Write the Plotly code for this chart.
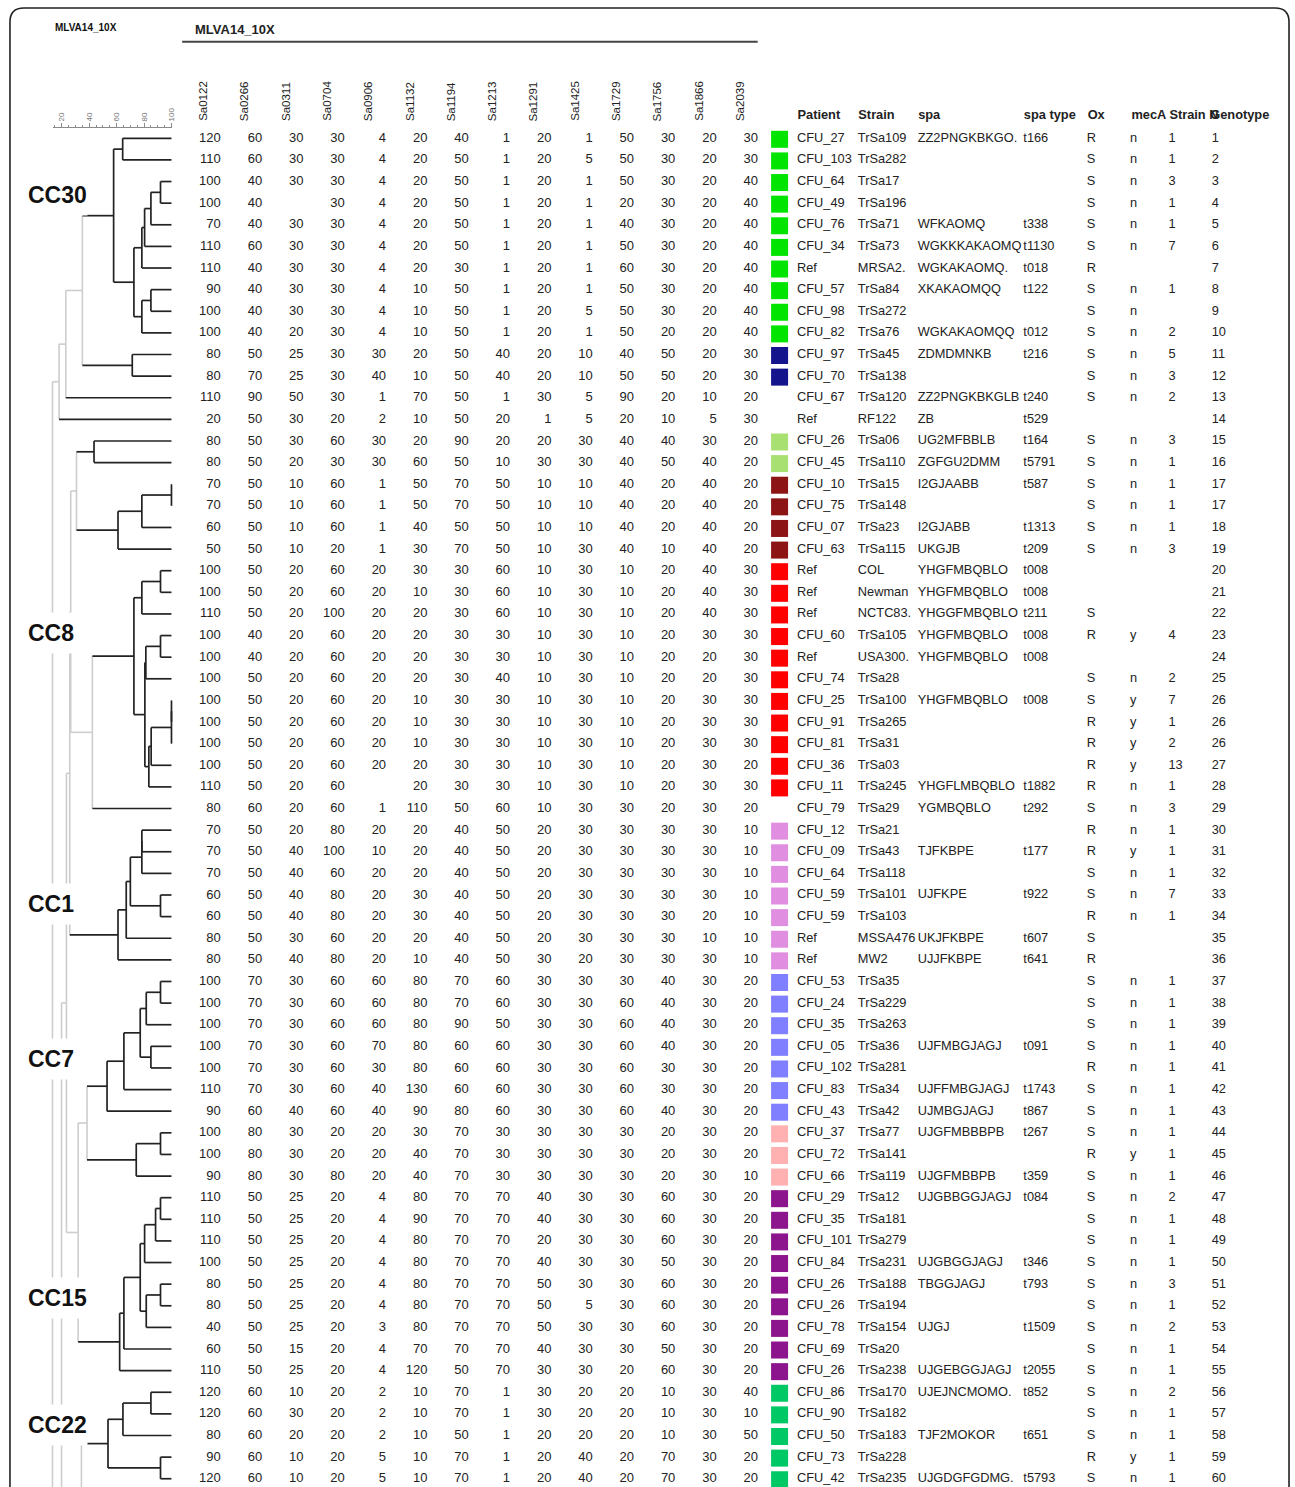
import plotly.graph_objects as go

# ---------------------------------------------------------------- data
markers = ["Sa0122", "Sa0266", "Sa0311", "Sa0704", "Sa0906", "Sa1132", "Sa1194",
           "Sa1213", "Sa1291", "Sa1425", "Sa1729", "Sa1756", "Sa1866", "Sa2039"]

sa0122 = [120, 110, 100, 100, 70, 110, 110, 90, 100, 100, 80, 80, 110, 20, 80, 80, 70, 70, 60, 50,
          100, 100, 110, 100, 100, 100, 100, 100, 100, 100, 110, 80, 70, 70, 70, 60, 60, 80, 80, 100,
          100, 100, 100, 100, 110, 90, 100, 100, 90, 110, 110, 110, 100, 80, 80, 40, 60, 110, 120, 120,
          80, 90, 120]
sa0266 = [60, 60, 40, 40, 40, 60, 40, 40, 40, 40, 50, 70, 90, 50, 50, 50, 50, 50, 50, 50,
          50, 50, 50, 40, 40, 50, 50, 50, 50, 50, 50, 60, 50, 50, 50, 50, 50, 50, 50, 70,
          70, 70, 70, 70, 70, 60, 80, 80, 80, 50, 50, 50, 50, 50, 50, 50, 50, 50, 60, 60,
          60, 60, 60]
sa0311 = [30, 30, 30, None, 30, 30, 30, 30, 30, 20, 25, 25, 50, 30, 30, 20, 10, 10, 10, 10,
          20, 20, 20, 20, 20, 20, 20, 20, 20, 20, 20, 20, 20, 40, 40, 40, 40, 30, 40, 30,
          30, 30, 30, 30, 30, 40, 30, 30, 30, 25, 25, 25, 25, 25, 25, 25, 15, 25, 10, 30,
          20, 10, 10]
sa0704 = [30, 30, 30, 30, 30, 30, 30, 30, 30, 30, 30, 30, 30, 20, 60, 30, 60, 60, 60, 20,
          60, 60, 100, 60, 60, 60, 60, 60, 60, 60, 60, 60, 80, 100, 60, 80, 80, 60, 80, 60,
          60, 60, 60, 60, 60, 60, 20, 20, 80, 20, 20, 20, 20, 20, 20, 20, 20, 20, 20, 20,
          20, 20, 20]
sa0906 = [4, 4, 4, 4, 4, 4, 4, 4, 4, 4, 30, 40, 1, 2, 30, 30, 1, 1, 1, 1,
          20, 20, 20, 20, 20, 20, 20, 20, 20, 20, None, 1, 20, 10, 20, 20, 20, 20, 20, 60,
          60, 60, 70, 30, 40, 40, 20, 20, 20, 4, 4, 4, 4, 4, 4, 3, 4, 4, 2, 2,
          2, 5, 5]
sa1132 = [20, 20, 20, 20, 20, 20, 20, 10, 10, 10, 20, 10, 70, 10, 20, 60, 50, 50, 40, 30,
          30, 10, 20, 20, 20, 20, 10, 10, 10, 20, 20, 110, 20, 20, 20, 30, 30, 20, 10, 80,
          80, 80, 80, 80, 130, 90, 30, 40, 40, 80, 90, 80, 80, 80, 80, 80, 70, 120, 10, 10,
          10, 10, 10]
sa1194 = [40, 50, 50, 50, 50, 50, 30, 50, 50, 50, 50, 50, 50, 50, 90, 50, 70, 70, 50, 70,
          30, 30, 30, 30, 30, 30, 30, 30, 30, 30, 30, 50, 40, 40, 40, 40, 40, 40, 40, 70,
          70, 90, 60, 60, 60, 80, 70, 70, 70, 70, 70, 70, 70, 70, 70, 70, 70, 50, 70, 70,
          50, 70, 70]
sa1213 = [1, 1, 1, 1, 1, 1, 1, 1, 1, 1, 40, 40, 1, 20, 20, 10, 50, 50, 50, 50,
          60, 60, 60, 30, 30, 40, 30, 30, 30, 30, 30, 60, 50, 50, 50, 50, 50, 50, 50, 60,
          60, 50, 60, 60, 60, 60, 30, 30, 30, 70, 70, 70, 70, 70, 70, 70, 70, 70, 1, 1,
          1, 1, 1]
sa1291 = [20, 20, 20, 20, 20, 20, 20, 20, 20, 20, 20, 20, 30, 1, 20, 30, 10, 10, 10, 10,
          10, 10, 10, 10, 10, 10, 10, 10, 10, 10, 10, 10, 20, 20, 20, 20, 20, 20, 30, 30,
          30, 30, 30, 30, 30, 30, 30, 30, 30, 40, 40, 20, 40, 50, 50, 50, 40, 30, 30, 30,
          20, 20, 20]
sa1425 = [1, 5, 1, 1, 1, 1, 1, 1, 5, 1, 10, 10, 5, 5, 30, 30, 10, 10, 10, 30,
          30, 30, 30, 30, 30, 30, 30, 30, 30, 30, 30, 30, 30, 30, 30, 30, 30, 30, 20, 30,
          30, 30, 30, 30, 30, 30, 30, 30, 30, 30, 30, 30, 30, 30, 5, 30, 30, 30, 20, 20,
          20, 40, 40]
sa1729 = [50, 50, 50, 20, 40, 50, 60, 50, 50, 50, 40, 50, 90, 20, 40, 40, 40, 40, 40, 40,
          10, 10, 10, 10, 10, 10, 10, 10, 10, 10, 10, 30, 30, 30, 30, 30, 30, 30, 30, 30,
          60, 60, 60, 60, 60, 60, 30, 30, 30, 30, 30, 30, 30, 30, 30, 30, 30, 20, 20, 20,
          20, 20, 20]
sa1756 = [30, 30, 30, 30, 30, 30, 30, 30, 30, 20, 50, 50, 20, 10, 40, 50, 20, 20, 20, 10,
          20, 20, 20, 20, 20, 20, 20, 20, 20, 20, 20, 20, 30, 30, 30, 30, 30, 30, 30, 40,
          40, 40, 40, 30, 30, 40, 20, 20, 20, 60, 60, 60, 50, 60, 60, 60, 50, 60, 10, 10,
          10, 70, 70]
sa1866 = [20, 20, 20, 20, 20, 20, 20, 20, 20, 20, 20, 20, 10, 5, 30, 40, 40, 40, 40, 40,
          40, 40, 40, 30, 20, 20, 30, 30, 30, 30, 30, 30, 30, 30, 30, 30, 20, 10, 30, 30,
          30, 30, 30, 30, 30, 30, 30, 30, 30, 30, 30, 30, 30, 30, 30, 30, 30, 30, 30, 30,
          30, 30, 30]
sa2039 = [30, 30, 40, 40, 40, 40, 40, 40, 40, 40, 30, 30, 20, 30, 20, 20, 20, 20, 20, 20,
          30, 30, 30, 30, 30, 30, 30, 30, 30, 20, 30, 20, 10, 10, 10, 10, 10, 10, 10, 20,
          20, 20, 20, 20, 20, 20, 20, 20, 10, 20, 20, 20, 20, 20, 20, 20, 20, 20, 40, 10,
          50, 20, 20]
mlva_columns = [sa0122, sa0266, sa0311, sa0704, sa0906, sa1132, sa1194,
                sa1213, sa1291, sa1425, sa1729, sa1756, sa1866, sa2039]

patients = ["CFU_27", "CFU_103", "CFU_64", "CFU_49", "CFU_76", "CFU_34", "Ref", "CFU_57", "CFU_98", "CFU_82",
            "CFU_97", "CFU_70", "CFU_67", "Ref", "CFU_26", "CFU_45", "CFU_10", "CFU_75", "CFU_07", "CFU_63",
            "Ref", "Ref", "Ref", "CFU_60", "Ref", "CFU_74", "CFU_25", "CFU_91", "CFU_81", "CFU_36",
            "CFU_11", "CFU_79", "CFU_12", "CFU_09", "CFU_64", "CFU_59", "CFU_59", "Ref", "Ref", "CFU_53",
            "CFU_24", "CFU_35", "CFU_05", "CFU_102", "CFU_83", "CFU_43", "CFU_37", "CFU_72", "CFU_66", "CFU_29",
            "CFU_35", "CFU_101", "CFU_84", "CFU_26", "CFU_26", "CFU_78", "CFU_69", "CFU_26", "CFU_86", "CFU_90",
            "CFU_50", "CFU_73", "CFU_42"]
strains = ["TrSa109", "TrSa282", "TrSa17", "TrSa196", "TrSa71", "TrSa73", "MRSA2.", "TrSa84", "TrSa272", "TrSa76",
           "TrSa45", "TrSa138", "TrSa120", "RF122", "TrSa06", "TrSa110", "TrSa15", "TrSa148", "TrSa23", "TrSa115",
           "COL", "Newman", "NCTC83.", "TrSa105", "USA300.", "TrSa28", "TrSa100", "TrSa265", "TrSa31", "TrSa03",
           "TrSa245", "TrSa29", "TrSa21", "TrSa43", "TrSa118", "TrSa101", "TrSa103", "MSSA476", "MW2", "TrSa35",
           "TrSa229", "TrSa263", "TrSa36", "TrSa281", "TrSa34", "TrSa42", "TrSa77", "TrSa141", "TrSa119", "TrSa12",
           "TrSa181", "TrSa279", "TrSa231", "TrSa188", "TrSa194", "TrSa154", "TrSa20", "TrSa238", "TrSa170", "TrSa182",
           "TrSa183", "TrSa228", "TrSa235"]
spa = ["ZZ2PNGKBKGO.", "", "", "", "WFKAOMQ", "WGKKKAKAOMQ", "WGKAKAOMQ.", "XKAKAOMQQ", "", "WGKAKAOMQQ",
       "ZDMDMNKB", "", "ZZ2PNGKBKGLB", "ZB", "UG2MFBBLB", "ZGFGU2DMM", "I2GJAABB", "", "I2GJABB", "UKGJB",
       "YHGFMBQBLO", "YHGFMBQBLO", "YHGGFMBQBLO", "YHGFMBQBLO", "YHGFMBQBLO", "", "YHGFMBQBLO", "", "", "",
       "YHGFLMBQBLO", "YGMBQBLO", "", "TJFKBPE", "", "UJFKPE", "", "UKJFKBPE", "UJJFKBPE", "",
       "", "", "UJFMBGJAGJ", "", "UJFFMBGJAGJ", "UJMBGJAGJ", "UJGFMBBBPB", "", "UJGFMBBPB", "UJGBBGGJAGJ",
       "", "", "UJGBGGJAGJ", "TBGGJAGJ", "", "UJGJ", "", "UJGEBGGJAGJ", "UJEJNCMOMO.", "",
       "TJF2MOKOR", "", "UJGDGFGDMG."]
spa_type = ["t166", "", "", "", "t338", "t1130", "t018", "t122", "", "t012",
            "t216", "", "t240", "t529", "t164", "t5791", "t587", "", "t1313", "t209",
            "t008", "t008", "t211", "t008", "t008", "", "t008", "", "", "",
            "t1882", "t292", "", "t177", "", "t922", "", "t607", "t641", "",
            "", "", "t091", "", "t1743", "t867", "t267", "", "t359", "t084",
            "", "", "t346", "t793", "", "t1509", "", "t2055", "t852", "",
            "t651", "", "t5793"]
ox = ["R", "S", "S", "S", "S", "S", "R", "S", "S", "S",
      "S", "S", "S", "", "S", "S", "S", "S", "S", "S",
      "", "", "S", "R", "", "S", "S", "R", "R", "R",
      "R", "S", "R", "R", "S", "S", "R", "S", "R", "S",
      "S", "S", "S", "R", "S", "S", "S", "R", "S", "S",
      "S", "S", "S", "S", "S", "S", "S", "S", "S", "S",
      "S", "R", "S"]
meca = ["n", "n", "n", "n", "n", "n", "", "n", "n", "n",
        "n", "n", "n", "", "n", "n", "n", "n", "n", "n",
        "", "", "", "y", "", "n", "y", "y", "y", "y",
        "n", "n", "n", "y", "n", "n", "n", "", "", "n",
        "n", "n", "n", "n", "n", "n", "n", "y", "n", "n",
        "n", "n", "n", "n", "n", "n", "n", "n", "n", "n",
        "n", "y", "n"]
strain_n = ["1", "1", "3", "1", "1", "7", "", "1", "", "2",
            "5", "3", "2", "", "3", "1", "1", "1", "1", "3",
            "", "", "", "4", "", "2", "7", "1", "2", "13",
            "1", "3", "1", "1", "1", "7", "1", "", "", "1",
            "1", "1", "1", "1", "1", "1", "1", "1", "1", "2",
            "1", "1", "1", "3", "1", "2", "1", "1", "2", "1",
            "1", "1", "1"]
genotype = [1, 2, 3, 4, 5, 6, 7, 8, 9, 10, 11, 12, 13, 14, 15, 16, 17, 17, 18, 19,
            20, 21, 22, 23, 24, 25, 26, 26, 26, 27, 28, 29, 30, 31, 32, 33, 34, 35, 36, 37,
            38, 39, 40, 41, 42, 43, 44, 45, 46, 47, 48, 49, 50, 51, 52, 53, 54, 55, 56, 57,
            58, 59, 60]
# MLVA type group of each row (colour key), "" = no colour box
type_group = ["A", "A", "A", "A", "A", "A", "A", "A", "A", "A",
              "B", "B", "", "", "C", "C", "D", "D", "D", "D",
              "E", "E", "E", "E", "E", "E", "E", "E", "E", "E",
              "E", "", "F", "F", "F", "F", "F", "F", "F", "G",
              "G", "G", "G", "G", "G", "G", "H", "H", "H", "I",
              "I", "I", "I", "I", "I", "I", "I", "I", "J", "J",
              "J", "J", "J"]

# tree: (node, child a, child b, similarity %). ints = table rows;
# 70/80/90 are leaves continuing below the visible page.
merges = [
    ("a1", 2, 3, 92), ("a2", "a1", 4, 85), ("a3", "a2", 5, 80.4), ("a4", "a3", 6, 78.4),
    ("a5", 7, 8, 85), ("a6", "a5", 9, 78.4), ("a7", "a4", "a6", 72.6),
    ("a8", 0, 1, 64.4), ("a9", "a8", "a7", 57.8), ("a10", 10, 11, 71.4),
    ("a11", "a9", "a10", 35), ("a12", "a11", 12, 22.9), ("a13", "a12", 13, 18),
    ("a14", "a13", 90, 13.2),
    ("b1", 14, 15, 43.5), ("b2", 16, 17, 100), ("b3", "b2", 18, 78.4), ("b4", "b3", 19, 61),
    ("b5", "b1", "b4", 30.7),
    ("b6", 20, 21, 92), ("b7", "b6", 22, 78.4), ("b8", 23, 24, 92), ("b9", "b8", 25, 81.3),
    ("b10", 26, 27, 100), ("b11", "b10", 28, 100), ("b12", "b11", 29, 85.2), ("b13", "b12", 30, 83.5),
    ("b14", "b9", "b13", 80.6), ("b15", "b7", "b14", 72.6), ("b16", "b15", 31, 42.3),
    ("b17", "b5", "b16", 26.5),
    ("c1", 32, 33, 78.4), ("c2", "c1", 34, 78.4), ("c3", 35, 36, 92), ("c4", "c2", "c3", 70),
    ("c5", "c4", 37, 67), ("c6", "c5", 38, 61), ("c7", "b17", "c6", 25.8),
    ("d1", 39, 40, 92), ("d2", "d1", 41, 81.6), ("d3", 42, 43, 85), ("d4", "d2", "d3", 77.2),
    ("d5", "d4", 44, 65.3), ("d6", "d5", 45, 53), ("d7", 46, 47, 92), ("d8", "d7", 48, 74.3),
    ("d9", "d6", "d8", 38.4),
    ("e1", 49, 50, 92), ("e2", "e1", 51, 88.4), ("e3", "e2", 52, 80.4), ("e4", 53, 54, 92),
    ("e5", "e4", 55, 81.6), ("e6", "e3", "e5", 77.2), ("e7", "e6", 56, 65.3), ("e8", "e7", 57, 62.2),
    ("e9", "d9", "e8", 31.9), ("e10", "c7", "e9", 23.4), ("e11", "e10", 80, 19.8),
    ("f1", 58, 59, 85), ("f2", "f1", 60, 64.6), ("f3", 61, 62, 92), ("f4", "f2", "f3", 53.7),
    ("f5", "f4", 70, 34.3),
]
cluster_labels = ["CC30", "CC8", "CC1", "CC7", "CC15", "CC22"]
scale_ticks = [20, 40, 60, 80, 100]
table_headers = ["Patient", "Strain", "spa", "spa type", "Ox", "mecA", "Strain N", "Genotype"]

# ---------------------------------------------------------------- layout constants
W, H = 1295, 1487
FONT = "Liberation Sans, Arial, sans-serif"
INK = "#222222"
GREY = "#cdcdcd"
ROW0, ROWSTEP = 138.3, 21.62          # pixel y of first row, row pitch
SIM0, SIMK = 34.5, 1.375              # pixel x = SIM0 + SIMK * similarity
CUT = 43                              # nodes below this similarity are drawn grey
TEXT_DY = 0.3 / ROWSTEP               # small text offset from the leaf line


def row_of(py):
    return (py - ROW0) / ROWSTEP


def sim_of(px):
    return (px - SIM0) / SIMK


group_colors = {"A": "#00e400", "B": "#14148c", "C": "#a9e072", "D": "#8c1414", "E": "#ff0000",
                "F": "#e08fe0", "G": "#7f7fff", "H": "#ffb1b1", "I": "#8c148c", "J": "#00c864"}
num_right = [221.5 + 41.45 * c for c in range(len(markers))]
info_x = [799.5, 860.5, 920.5, 1026.5, 1090, 1133.5, 1172, 1215.5]
head_x = [800, 861, 921, 1027, 1091, 1135, 1173, 1214]
cluster_y_px = [195, 633, 904, 1059, 1297.5, 1424.5]

rows = list(range(len(patients)))
trow = [r + TEXT_DY for r in rows]
fig = go.Figure()

# ---------------------------------------------------------------- dendrogram
pos = {}


def get(node):
    if isinstance(node, int):
        return (100.0, float(node))
    return pos[node]


black = ([], [])
grey = ([], [])


def add(seg, x0, y0, x1, y1):
    seg[0].extend([x0, x1, None])
    seg[1].extend([y0, y1, None])


for name, a, b, s in merges:
    (sa, ya), (sb, yb) = get(a), get(b)
    pos[name] = (s, (ya + yb) / 2)
    add(black if s >= CUT else grey, s, ya, s, yb)
    for child, (sc, yc) in ((a, (sa, ya)), (b, (sb, yb))):
        ccol = black if (isinstance(child, int) or sc >= CUT) else grey
        add(ccol, s, yc, sc, yc)

fig.add_trace(go.Scatter(x=grey[0], y=grey[1], mode="lines", line=dict(color=GREY, width=1.6),
                         hoverinfo="skip", xaxis="x", yaxis="y"))
fig.add_trace(go.Scatter(x=black[0], y=black[1], mode="lines", line=dict(color=INK, width=1.7),
                         hoverinfo="skip", xaxis="x", yaxis="y"))

# scale axis carrier
fig.add_trace(go.Scatter(x=[50], y=[row_of(-200)], mode="markers", marker=dict(opacity=0),
                         hoverinfo="skip", xaxis="x3", yaxis="y"))

# ---------------------------------------------------------------- MLVA numbers
for c, col in enumerate(mlva_columns):
    fig.add_trace(go.Scatter(
        x=[num_right[c]] * len(rows), y=trow, mode="text",
        text=["" if v is None else str(v) for v in col],
        textposition="middle left", textfont=dict(family=FONT, size=13, color=INK),
        hoverinfo="skip", xaxis="x2", yaxis="y", cliponaxis=False))

# colour boxes
box_rows = [r for r in rows if type_group[r]]
fig.add_trace(go.Scatter(
    x=[782] * len(box_rows), y=[r + 1.0 / ROWSTEP for r in box_rows], mode="markers",
    marker=dict(symbol="square", size=17, color=[group_colors[type_group[r]] for r in box_rows],
                line=dict(width=0)),
    hoverinfo="skip", xaxis="x2", yaxis="y"))

# info columns
info_cols = [patients, strains, spa, spa_type, ox, meca, strain_n, [str(g) for g in genotype]]
for x, col in zip(info_x, info_cols):
    fig.add_trace(go.Scatter(
        x=[x] * len(rows), y=trow, mode="text", text=col,
        textposition="middle right", textfont=dict(family=FONT, size=12.8, color=INK),
        hoverinfo="skip", xaxis="x2", yaxis="y", cliponaxis=False))

# info headers
fig.add_trace(go.Scatter(
    x=head_x, y=[row_of(116)] * len(head_x), mode="text", text=table_headers,
    textposition="middle right", textfont=dict(family=FONT, size=12.8, color=INK, weight="bold"),
    hoverinfo="skip", xaxis="x2", yaxis="y", cliponaxis=False))

annotations = []
for c, m in enumerate(markers):
    annotations.append(dict(x=num_right[c] - 18, y=row_of(123), xref="x2", yref="y", text=m,
                            textangle=-90, xanchor="center", yanchor="bottom", showarrow=False,
                            font=dict(family=FONT, size=11.5, color=INK)))
for lab, py in zip(cluster_labels, cluster_y_px):
    annotations.append(dict(x=27, y=row_of(py), xref="x2", yref="y", text="<b>%s</b>" % lab,
                            xanchor="left", yanchor="middle", showarrow=False, bgcolor="white",
                            borderpad=0, height=40, font=dict(family=FONT, size=23, color="#111111")))
annotations.append(dict(x=53, y=row_of(27), xref="x2", yref="y", text="<b>MLVA14_10X</b>",
                        xanchor="left", yanchor="middle", showarrow=False,
                        font=dict(family=FONT, size=10, color="#111111")))
annotations.append(dict(x=194, y=row_of(29), xref="x2", yref="y", text="<b>MLVA14_10X</b>",
                        xanchor="left", yanchor="middle", showarrow=False,
                        font=dict(family=FONT, size=13, color="#222222")))

shapes = [
    dict(type="line", xref="paper", yref="paper", x0=182.7 / W, x1=760 / W,
         y0=1 - 41.7 / H, y1=1 - 41.7 / H, line=dict(color="#444444", width=2)),
    dict(type="path", xref="paper", yref="paper", line=dict(color="#222222", width=1.6),
         path="M {l},{b} L {l},{t1} Q {l},{t} {l1},{t} L {r1},{t} Q {r},{t} {r},{t1} L {r},{b}".format(
             l=10 / W, r=1293 / W, l1=24 / W, r1=1279 / W, t=1 - 8 / H, t1=1 - 22 / H, b=-0.05)),
]

fig.update_layout(
    width=W, height=H, margin=dict(l=0, r=0, t=0, b=0),
    paper_bgcolor="white", plot_bgcolor="rgba(0,0,0,0)", showlegend=False,
    xaxis=dict(domain=[0, 1], range=[sim_of(0), sim_of(W)], visible=False, fixedrange=True),
    yaxis=dict(domain=[0, 1], range=[row_of(H), row_of(0)], visible=False, fixedrange=True),
    xaxis2=dict(domain=[0, 1], range=[0, W], overlaying="x", anchor="y", visible=False, fixedrange=True),
    xaxis3=dict(domain=[53.3 / W, 172.6 / W], range=[sim_of(53.3), sim_of(172.6)], anchor="free",
                position=1 - 127 / H, side="top", showline=True, linecolor="#8a8a8a", linewidth=1,
                showgrid=False, zeroline=False, ticks="outside", ticklen=4, tickcolor="#8a8a8a",
                tickvals=scale_ticks, ticktext=[str(t) for t in scale_ticks], tickangle=-90,
                tickfont=dict(family=FONT, size=8, color="#777777"),
                minor=dict(ticks="outside", dtick=5, tick0=0, ticklen=2, tickcolor="#8a8a8a"),
                fixedrange=True),
    annotations=annotations, shapes=shapes,
)

fig.write_html("out.html", config={"displayModeBar": False},
               post_script="document.body.style.margin='0';document.body.style.overflow='hidden';")
